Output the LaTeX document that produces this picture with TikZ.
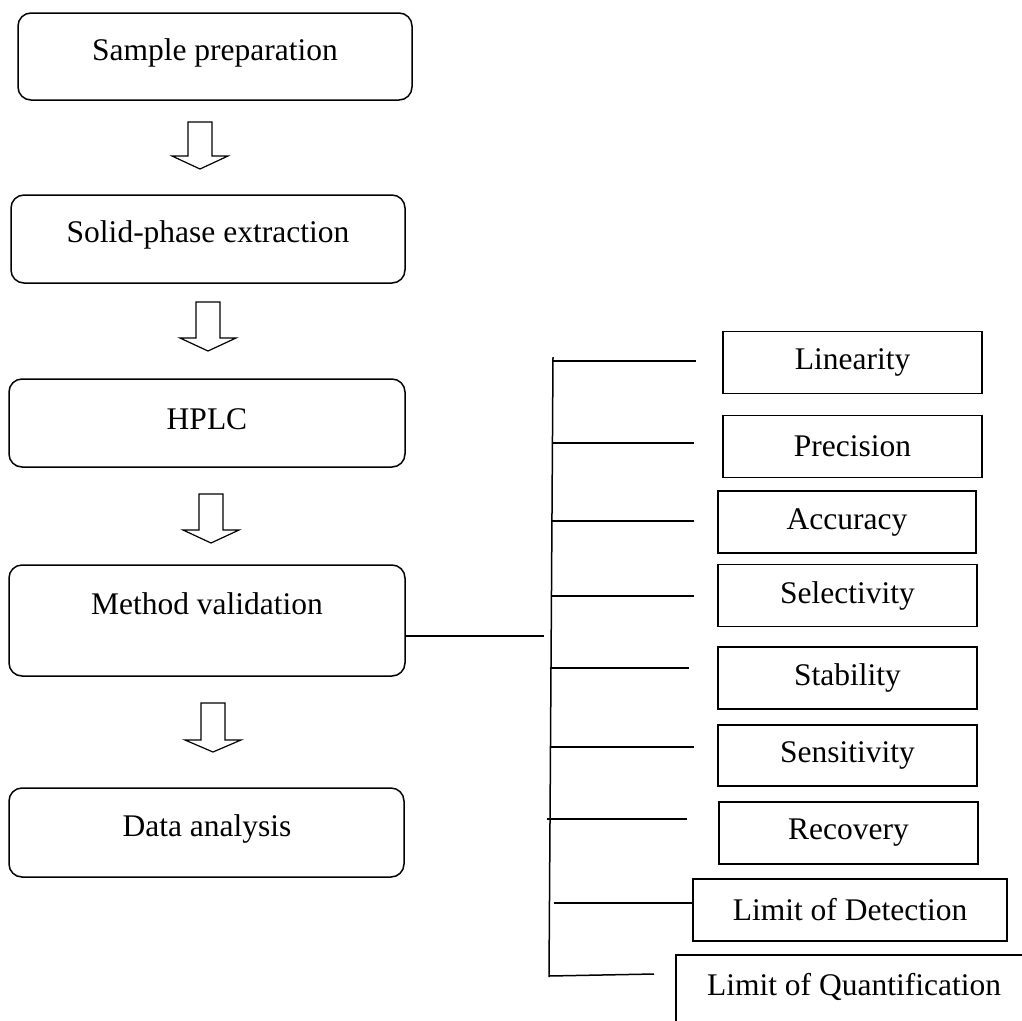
\documentclass[tikz,border=0pt]{standalone}
\usepackage{fontspec}
\setmainfont{Liberation Serif}
\newcommand\fsz{\fontsize{31.5}{36}\selectfont}
\newcommand\blockarrow[4]{\draw[blk] (#1-12,#2) -- (#1+12,#2) -- (#1+12,#3) -- (#1+28,#3) -- (#1,#4) -- (#1-28,#3) -- (#1-12,#3) -- cycle;}
\tikzset{
  flow/.style={draw, line width=1.5pt, rounded corners=13pt, minimum width=395pt, inner sep=0pt},
  flowtext/.style={inner sep=0pt, font=\fsz},
  item/.style={draw, line width=1.5pt, minimum width=259pt, minimum height=62pt, inner sep=0pt, font=\fsz},
  wire/.style={line width=1.5pt},
  blk/.style={draw, line width=1.2pt, fill=white, line join=miter}
}
\begin{document}
\begin{tikzpicture}[x=1pt,y=-1pt]
\useasboundingbox (0,0) rectangle (1022,1020);
\clip (0,0) rectangle (1022,1020);
\fill[white] (0,0) rectangle (1022,1020);

% left flow boxes
\node[flow, minimum width=394pt, minimum height=87pt] (sp) at (215,56.5) {};
\node[flowtext] (spt) at (215,53) {Sample preparation};
\node[flow, minimum width=394pt, minimum height=88pt] (spe) at (208,239) {};
\node[flowtext] (spet) at (208,235) {Solid-phase extraction};
\node[flow, minimum width=396pt, minimum height=88pt] (hplc) at (207,423) {};
\node[flowtext] (hplct) at (207,419) {HPLC};
\node[flow, minimum width=396pt, minimum height=111pt] (mv) at (207,620.5) {};
\node[flowtext] (mvt) at (207,604) {Method validation};
\node[flow, minimum width=395pt, minimum height=89pt] (da) at (206.5,832.5) {};
\node[flowtext] (dat) at (207,829) {Data analysis};

% block arrows
\blockarrow{200}{122}{156}{169}
\blockarrow{208}{302}{338}{351}
\blockarrow{211}{494}{530}{543}
\blockarrow{213}{703}{740}{752}

% right items
\node[item] (lin) at (852.5,362.5) {Linearity};
\node[item] (pre) at (852.5,446.5) {Precision};
\node[item, minimum width=258pt] (acc) at (847,522) {Accuracy};
\node[item] (sel) at (847.5,595.5) {Selectivity};
\node[item] (sta) at (847.5,678) {Stability};
\node[item, minimum height=61pt] (sen) at (847.5,755.5) {Sensitivity};
\node[item] (rec) at (848.5,833) {Recovery};
\node[item, minimum width=314pt] (lod) at (850,910) {Limit of Detection};
\node[inner sep=0pt, font=\fsz] (loq) at (854,987) {Limit of Quantification};
\draw[wire] (1040,955) -- (676,955) -- (676,1040);

% bus and ticks
\coordinate (bustop) at (553,357);
\coordinate (busbot) at (549,977);
\draw[wire] (bustop) -- (busbot);
\coordinate (mvj) at (544,636);
\draw[wire] (mvj -| mv.east) -- (mvj);
\draw[wire] (553,361) -- (696,361);
\draw[wire] (553,443) -- (694,443);
\draw[wire] (552,521) -- (694,521);
\draw[wire] (552,596) -- (694,596);
\draw[wire] (550,668) -- (689,668);
\draw[wire] (551,747) -- (694,747);
\draw[wire] (547,819) -- (687,819);
\draw[wire] (554,903) -- (lod.west |- 0,903);
\draw[wire] (549,976) -- (654,974);
\end{tikzpicture}
\end{document}
